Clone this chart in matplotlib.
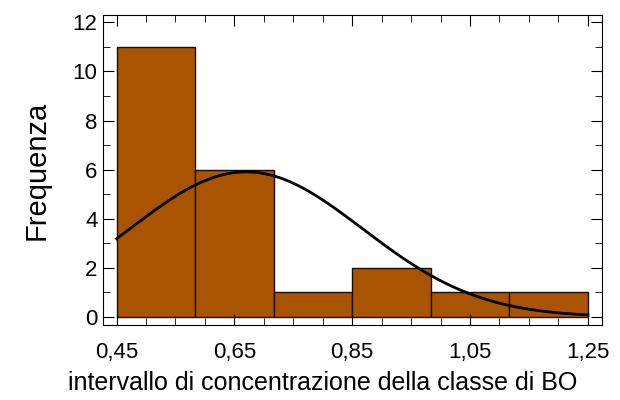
import numpy as np
import matplotlib.pyplot as plt
from matplotlib.ticker import MultipleLocator, FuncFormatter

plt.rcParams['font.family'] = ['Liberation Sans', 'DejaVu Sans']

# histogram data
bin_edges = [0.45, 0.5833, 0.7167, 0.85, 0.9833, 1.1167, 1.25]
counts = [11, 6, 1, 2, 1, 1]

# fitted normal curve parameters
media = 0.67
devst = 0.198
n_tot = sum(counts)

fig = plt.figure(figsize=(6.2, 4.0), dpi=100)
ax = fig.add_axes([103/620, 75/400, 499/620, 310/400])

larg = np.diff(bin_edges)
ax.bar(bin_edges[:-1], counts, width=larg, align='edge',
       color='#A85400', edgecolor='#1a0d00', linewidth=1.0)

xs = np.linspace(bin_edges[0], bin_edges[-1], 300)
ys = n_tot * larg[0] / (devst * np.sqrt(2*np.pi)) * np.exp(-(xs-media)**2/(2*devst**2))
ax.plot(xs, ys, color='black', lw=2)

ax.set_xlim(0.427, 1.274)
ax.set_ylim(-0.33, 12.3)
ax.xaxis.set_minor_locator(MultipleLocator(0.05))
ax.set_xticks([0.45, 0.65, 0.85, 1.05, 1.25])
ax.yaxis.set_major_locator(MultipleLocator(2))
ax.yaxis.set_minor_locator(MultipleLocator(1))
ax.xaxis.set_major_formatter(FuncFormatter(lambda v, p: f"{v:.2f}".replace('.', ',')))
ax.tick_params(which='both', direction='in', top=True, right=True, labelsize=16)
ax.tick_params(which='major', length=8)
ax.tick_params(which='minor', length=5)
ax.tick_params(axis='x', pad=12)
ax.tick_params(axis='y', pad=4)
ax.set_ylabel('Frequenza', fontsize=21, labelpad=16)
ax.set_xlabel('intervallo di concentrazione della classe di BO', fontsize=18, labelpad=8)
ax.xaxis.set_label_coords((323-103)/499, -(383-325)/310, transform=ax.transAxes)
ax.xaxis.label.set_va('center')

fig.savefig('out.png', dpi=100)
